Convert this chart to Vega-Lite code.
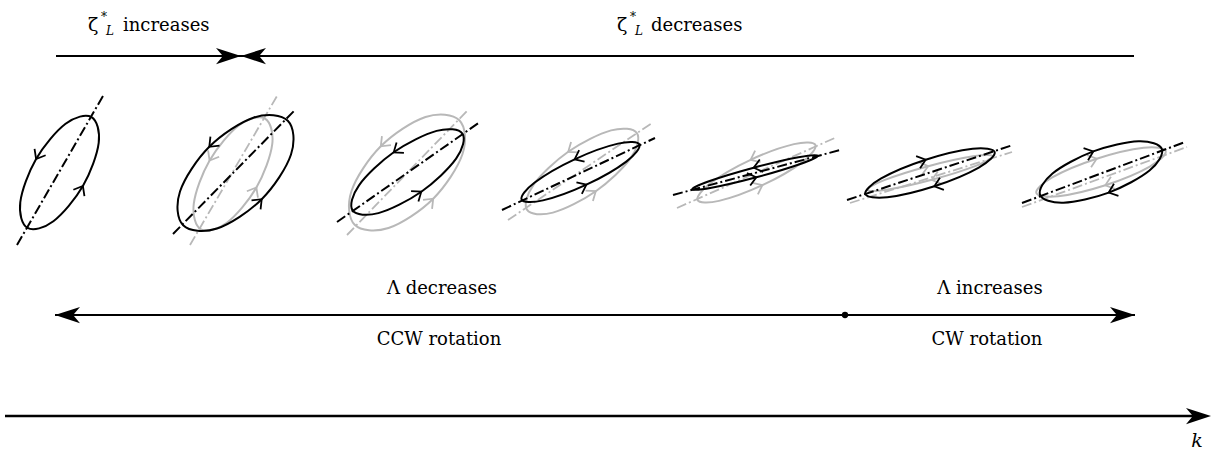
{
  "$schema": "https://vega.github.io/schema/vega-lite/v6.json",
  "width": 1229,
  "height": 453,
  "autosize": {"type": "fit", "contains": "padding"},
  "padding": 0,
  "background": "white",
  "config": {"view": {"stroke": null}},
  "datasets": {
    "blackEllipses": [
      {"e":"E1","i":0,"x":91.5,"y":117.1},{"e":"E1","i":1,"x":65.6,"y":123.8},{"e":"E1","i":2,"x":36.1,"y":159.0},{"e":"E1","i":3,"x":20.3,"y":202.2},{"e":"E1","i":4,"x":27.5,"y":227.9},{"e":"E1","i":5,"x":53.4,"y":221.2},{"e":"E1","i":6,"x":82.9,"y":186.0},{"e":"E1","i":7,"x":98.7,"y":142.9},
      {"e":"E2","i":0,"x":287.8,"y":120.7},{"e":"E2","i":1,"x":254.0,"y":117.5},{"e":"E2","i":2,"x":209.3,"y":146.8},{"e":"E2","i":3,"x":180.0,"y":191.5},{"e":"E2","i":4,"x":183.2,"y":225.3},{"e":"E2","i":5,"x":217.0,"y":228.5},{"e":"E2","i":6,"x":261.7,"y":199.2},{"e":"E2","i":7,"x":291.0,"y":154.5},
      {"e":"E3","i":0,"x":462.4,"y":133.6},{"e":"E3","i":1,"x":436.6,"y":130.9},{"e":"E3","i":2,"x":393.7,"y":152.3},{"e":"E3","i":3,"x":359.0,"y":185.3},{"e":"E3","i":4,"x":352.6,"y":210.4},{"e":"E3","i":5,"x":378.4,"y":213.1},{"e":"E3","i":6,"x":421.3,"y":191.7},{"e":"E3","i":7,"x":456.1,"y":158.7},
      {"e":"E4","i":0,"x":639.4,"y":144.5},{"e":"E4","i":1,"x":618.0,"y":143.6},{"e":"E4","i":2,"x":574.6,"y":159.3},{"e":"E4","i":3,"x":534.7,"y":182.5},{"e":"E4","i":4,"x":521.6,"y":199.5},{"e":"E4","i":5,"x":543.0,"y":200.4},{"e":"E4","i":6,"x":586.4,"y":184.7},{"e":"E4","i":7,"x":626.3,"y":161.6},
      {"e":"E5","i":0,"x":817.8,"y":155.7},{"e":"E5","i":1,"x":798.5,"y":157.2},{"e":"E5","i":2,"x":753.7,"y":167.7},{"e":"E5","i":3,"x":709.7,"y":181.0},{"e":"E5","i":4,"x":692.2,"y":189.3},{"e":"E5","i":5,"x":711.5,"y":187.8},{"e":"E5","i":6,"x":756.3,"y":177.3},{"e":"E5","i":7,"x":800.3,"y":164.0},
      {"e":"E6","i":0,"x":994.7,"y":152.0},{"e":"E6","i":1,"x":972.7,"y":148.7},{"e":"E6","i":2,"x":925.7,"y":159.7},{"e":"E6","i":3,"x":881.2,"y":178.4},{"e":"E6","i":4,"x":865.3,"y":194.0},{"e":"E6","i":5,"x":887.3,"y":197.3},{"e":"E6","i":6,"x":934.3,"y":186.3},{"e":"E6","i":7,"x":978.8,"y":167.6},
      {"e":"E7","i":0,"x":1161.9,"y":149.2},{"e":"E7","i":1,"x":1138.6,"y":141.3},{"e":"E7","i":2,"x":1093.3,"y":151.4},{"e":"E7","i":3,"x":1052.5,"y":173.5},{"e":"E7","i":4,"x":1040.1,"y":194.8},{"e":"E7","i":5,"x":1063.4,"y":202.7},{"e":"E7","i":6,"x":1108.7,"y":192.6},{"e":"E7","i":7,"x":1149.5,"y":170.5}
    ],
    "grayEllipses": [
      {"e":"G2","i":0,"x":265.0,"y":118.6},{"e":"G2","i":1,"x":239.1,"y":125.3},{"e":"G2","i":2,"x":209.6,"y":160.5},{"e":"G2","i":3,"x":193.8,"y":203.7},{"e":"G2","i":4,"x":201.0,"y":229.4},{"e":"G2","i":5,"x":226.9,"y":222.7},{"e":"G2","i":6,"x":256.4,"y":187.5},{"e":"G2","i":7,"x":272.2,"y":144.4},
      {"e":"G3","i":0,"x":459.3,"y":120.2},{"e":"G3","i":1,"x":425.5,"y":117.0},{"e":"G3","i":2,"x":380.8,"y":146.3},{"e":"G3","i":3,"x":351.5,"y":191.0},{"e":"G3","i":4,"x":354.7,"y":224.8},{"e":"G3","i":5,"x":388.5,"y":228.0},{"e":"G3","i":6,"x":433.2,"y":198.7},{"e":"G3","i":7,"x":462.5,"y":154.0},
      {"e":"G4","i":0,"x":636.9,"y":133.1},{"e":"G4","i":1,"x":611.1,"y":130.4},{"e":"G4","i":2,"x":568.2,"y":151.8},{"e":"G4","i":3,"x":533.5,"y":184.8},{"e":"G4","i":4,"x":527.1,"y":209.9},{"e":"G4","i":5,"x":552.9,"y":212.6},{"e":"G4","i":6,"x":595.8,"y":191.2},{"e":"G4","i":7,"x":630.6,"y":158.2},
      {"e":"G5","i":0,"x":815.4,"y":145.0},{"e":"G5","i":1,"x":794.0,"y":144.1},{"e":"G5","i":2,"x":750.6,"y":159.8},{"e":"G5","i":3,"x":710.7,"y":183.0},{"e":"G5","i":4,"x":697.6,"y":200.0},{"e":"G5","i":5,"x":719.0,"y":200.9},{"e":"G5","i":6,"x":762.4,"y":185.2},{"e":"G5","i":7,"x":802.3,"y":162.1},
      {"e":"G6","i":0,"x":992.8,"y":156.2},{"e":"G6","i":1,"x":973.1,"y":156.3},{"e":"G6","i":2,"x":928.2,"y":166.2},{"e":"G6","i":3,"x":884.3,"y":180.1},{"e":"G6","i":4,"x":867.2,"y":189.8},{"e":"G6","i":5,"x":886.9,"y":189.7},{"e":"G6","i":6,"x":931.8,"y":179.8},{"e":"G6","i":7,"x":975.7,"y":165.9},
      {"e":"G7","i":0,"x":1165.7,"y":151.0},{"e":"G7","i":1,"x":1143.7,"y":147.7},{"e":"G7","i":2,"x":1096.7,"y":158.7},{"e":"G7","i":3,"x":1052.2,"y":177.4},{"e":"G7","i":4,"x":1036.3,"y":193.0},{"e":"G7","i":5,"x":1058.3,"y":196.3},{"e":"G7","i":6,"x":1105.3,"y":185.3},{"e":"G7","i":7,"x":1149.8,"y":166.6}
    ],
    "blackAxes": [
      {"e":"E1","x":17,"y":245,"x2":103,"y2":96},
      {"e":"E2","x":173,"y":234,"x2":295,"y2":110},
      {"e":"E3","x":337,"y":222,"x2":480,"y2":122},
      {"e":"E4","x":502,"y":210,"x2":655,"y2":138},
      {"e":"E5","x":673,"y":195,"x2":840,"y2":150},
      {"e":"E6","x":847,"y":200,"x2":1013,"y2":145},
      {"e":"E7","x":1022,"y":203,"x2":1185,"y2":142}
    ],
    "grayAxes": [
      {"e":"G2","x":190,"y":245,"x2":277,"y2":96},
      {"e":"G3","x":347,"y":235,"x2":468,"y2":110},
      {"e":"G4","x":508,"y":220,"x2":652,"y2":123},
      {"e":"G5","x":677,"y":208,"x2":837,"y2":137},
      {"e":"G6","x":850,"y":203,"x2":1012,"y2":152},
      {"e":"G7","x":1022,"y":207,"x2":1187,"y2":147}
    ],
    "blackChevrons": [
      {"e":"E1","x":36.1,"y":159.0,"angle":120},{"e":"E1","x":82.9,"y":186.0,"angle":300},
      {"e":"E2","x":209.3,"y":146.8,"angle":135},{"e":"E2","x":261.7,"y":199.2,"angle":315},
      {"e":"E3","x":393.7,"y":152.3,"angle":145},{"e":"E3","x":421.3,"y":191.7,"angle":325},
      {"e":"E4","x":574.6,"y":159.3,"angle":155},{"e":"E4","x":586.4,"y":184.7,"angle":335},
      {"e":"E5","x":753.7,"y":167.7,"angle":165},{"e":"E5","x":756.3,"y":177.3,"angle":345},
      {"e":"E6","x":925.7,"y":159.7,"angle":342},{"e":"E6","x":934.3,"y":186.3,"angle":162},
      {"e":"E7","x":1093.3,"y":151.4,"angle":339.5},{"e":"E7","x":1108.7,"y":192.6,"angle":159.5}
    ],
    "grayChevrons": [
      {"e":"G2","x":209.6,"y":160.5,"angle":120},{"e":"G2","x":256.4,"y":187.5,"angle":300},
      {"e":"G3","x":380.8,"y":146.3,"angle":135},{"e":"G3","x":433.2,"y":198.7,"angle":315},
      {"e":"G4","x":568.2,"y":151.8,"angle":145},{"e":"G4","x":595.8,"y":191.2,"angle":325},
      {"e":"G5","x":750.6,"y":159.8,"angle":155},{"e":"G5","x":762.4,"y":185.2,"angle":335},
      {"e":"G6","x":928.2,"y":166.2,"angle":345},{"e":"G6","x":931.8,"y":179.8,"angle":165},
      {"e":"G7","x":1096.7,"y":158.7,"angle":342},{"e":"G7","x":1105.3,"y":185.3,"angle":162}
    ],
    "arrowLines": [
      {"arrow":"zeta","x":56,"y":56,"x2":1134,"y2":56},
      {"arrow":"lambda","x":55,"y":315,"x2":1135,"y2":315}
    ],
    "kLine": [
      {"arrow":"k","x":5,"y":416,"x2":1205,"y2":416}
    ],
    "arrowHeads": [
      {"arrow":"zeta","x":241,"y":56,"angle":0},
      {"arrow":"zeta","x":241,"y":56,"angle":180},
      {"arrow":"lambda","x":55,"y":315,"angle":180},
      {"arrow":"lambda","x":1135,"y":315,"angle":0},
      {"arrow":"k","x":1211,"y":416,"angle":0}
    ],
    "dots": [{"x":845,"y":315}],
    "labels": [
      {"x":442,"y":294,"text":"Λ decreases"},
      {"x":439,"y":345,"text":"CCW rotation"},
      {"x":990,"y":294,"text":"Λ increases"},
      {"x":987,"y":345,"text":"CW rotation"}
    ],
    "zetaWords": [
      {"x":123,"y":31,"text":"increases"},
      {"x":651,"y":31,"text":"decreases"}
    ],
    "zetas": [
      {"x":88,"y":31,"text":"ζ"},
      {"x":617,"y":31,"text":"ζ"}
    ],
    "stars": [
      {"x":101,"y":21,"text":"*"},
      {"x":630,"y":21,"text":"*"}
    ],
    "subs": [
      {"x":106,"y":35,"text":"L"},
      {"x":635,"y":35,"text":"L"}
    ],
    "kLabel": [{"x":1197,"y":447,"text":"k"}]
  },
  "encoding": {
    "x": {"field": "x", "type": "quantitative", "scale": {"domain": [0, 1229], "nice": false, "zero": false}, "axis": null},
    "y": {"field": "y", "type": "quantitative", "scale": {"domain": [0, 453], "nice": false, "zero": false, "reverse": true}, "axis": null}
  },
  "layer": [
    {
      "data": {"name": "grayAxes"},
      "mark": {"type": "rule", "stroke": "#b8b8b8", "strokeWidth": 1.8, "strokeDash": [10, 3, 2, 3]},
      "encoding": {"x2": {"field": "x2"}, "y2": {"field": "y2"}}
    },
    {
      "data": {"name": "grayEllipses"},
      "mark": {"type": "line", "interpolate": "cardinal-closed", "stroke": "#b8b8b8", "strokeWidth": 2},
      "encoding": {"detail": {"field": "e"}, "order": {"field": "i", "type": "quantitative"}}
    },
    {
      "data": {"name": "grayChevrons"},
      "mark": {"type": "point", "shape": "M-1,-0.8L0,0L-1,0.8", "filled": false, "stroke": "#b8b8b8", "strokeWidth": 1.8, "size": 256, "opacity": 1},
      "encoding": {"angle": {"field": "angle", "type": "quantitative", "scale": null}}
    },
    {
      "data": {"name": "blackAxes"},
      "mark": {"type": "rule", "stroke": "#000", "strokeWidth": 2, "strokeDash": [10, 3, 2, 3]},
      "encoding": {"x2": {"field": "x2"}, "y2": {"field": "y2"}}
    },
    {
      "data": {"name": "blackEllipses"},
      "mark": {"type": "line", "interpolate": "cardinal-closed", "stroke": "#000", "strokeWidth": 2},
      "encoding": {"detail": {"field": "e"}, "order": {"field": "i", "type": "quantitative"}}
    },
    {
      "data": {"name": "blackChevrons"},
      "mark": {"type": "point", "shape": "M-1,-0.8L0,0L-1,0.8", "filled": false, "stroke": "#000", "strokeWidth": 1.8, "size": 256, "opacity": 1},
      "encoding": {"angle": {"field": "angle", "type": "quantitative", "scale": null}}
    },
    {
      "data": {"name": "arrowLines"},
      "mark": {"type": "rule", "stroke": "#000", "strokeWidth": 1.8},
      "encoding": {"x2": {"field": "x2"}, "y2": {"field": "y2"}}
    },
    {
      "data": {"name": "kLine"},
      "mark": {"type": "rule", "stroke": "#000", "strokeWidth": 2.6},
      "encoding": {"x2": {"field": "x2"}, "y2": {"field": "y2"}}
    },
    {
      "data": {"name": "arrowHeads"},
      "mark": {"type": "point", "shape": "M0,0L-2,-0.65L-1.45,0L-2,0.65Z", "filled": true, "fill": "#000", "strokeWidth": 0, "size": 625, "opacity": 1},
      "encoding": {"angle": {"field": "angle", "type": "quantitative", "scale": null}}
    },
    {
      "data": {"name": "dots"},
      "mark": {"type": "point", "shape": "circle", "filled": true, "fill": "#000", "size": 40, "opacity": 1}
    },
    {
      "data": {"name": "labels"},
      "mark": {"type": "text", "font": "DejaVu Serif", "fontSize": 18, "align": "center", "baseline": "alphabetic", "fill": "#000"},
      "encoding": {"text": {"field": "text"}}
    },
    {
      "data": {"name": "zetaWords"},
      "mark": {"type": "text", "font": "DejaVu Serif", "fontSize": 18, "align": "left", "baseline": "alphabetic", "fill": "#000"},
      "encoding": {"text": {"field": "text"}}
    },
    {
      "data": {"name": "zetas"},
      "mark": {"type": "text", "font": "DejaVu Serif", "fontSize": 19, "align": "left", "baseline": "alphabetic", "fill": "#000"},
      "encoding": {"text": {"field": "text"}}
    },
    {
      "data": {"name": "stars"},
      "mark": {"type": "text", "font": "DejaVu Serif", "fontSize": 12, "align": "left", "baseline": "alphabetic", "fill": "#000"},
      "encoding": {"text": {"field": "text"}}
    },
    {
      "data": {"name": "subs"},
      "mark": {"type": "text", "font": "DejaVu Serif", "fontSize": 12, "fontStyle": "italic", "align": "left", "baseline": "alphabetic", "fill": "#000"},
      "encoding": {"text": {"field": "text"}}
    },
    {
      "data": {"name": "kLabel"},
      "mark": {"type": "text", "font": "DejaVu Serif", "fontSize": 19, "fontStyle": "italic", "align": "center", "baseline": "alphabetic", "fill": "#000"},
      "encoding": {"text": {"field": "text"}}
    }
  ]
}
